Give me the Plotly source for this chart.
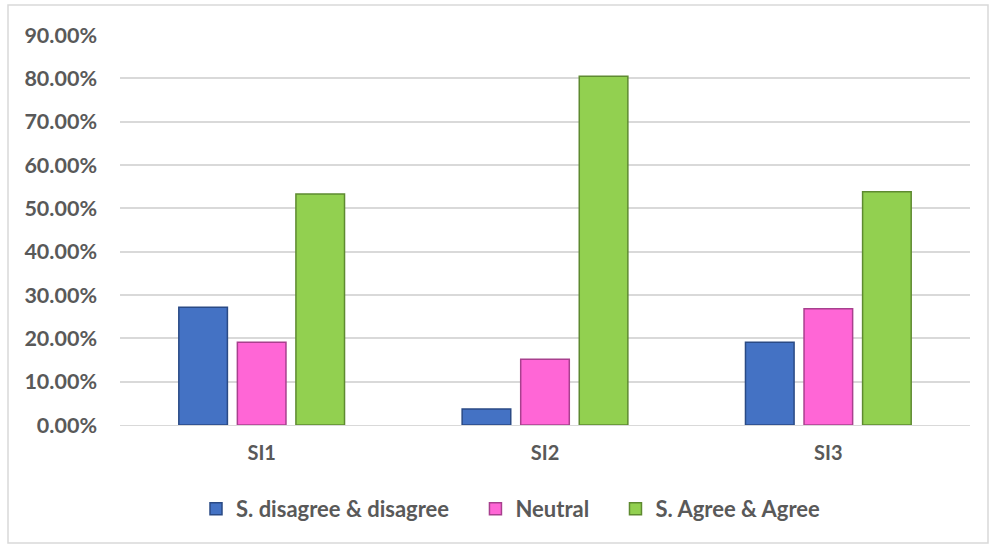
import plotly.graph_objects as go

categories = ["SI1", "SI2", "SI3"]
disagree = [0.272, 0.037, 0.191]
neutral = [0.191, 0.152, 0.268]
agree = [0.533, 0.805, 0.538]
tick_vals = [0, 0.1, 0.2, 0.3, 0.4, 0.5, 0.6, 0.7, 0.8, 0.9]
series_names = ["S. disagree & disagree", "Neutral", "S. Agree & Agree"]

colors = ["#4472C4", "#FF66D6", "#92D050"]
edges = ["#2A4A85", "#A8408E", "#5E8A30"]

fig = go.Figure()
n = len(series_names)
for i, (name, vals, c, e) in enumerate(zip(series_names, [disagree, neutral, agree], colors, edges)):
    pad = "\u00a0" * 4 if i < n - 1 else ""
    fig.add_trace(go.Bar(
        name=name + pad, x=categories, y=vals,
        marker=dict(color=c, line=dict(color=e, width=1.5)),
    ))

font_fam = "Lato, 'Open Sans', sans-serif"
txt = dict(family=font_fam, size=21, color="#595959", weight="bold")
fig.update_layout(
    width=990, height=545,
    margin=dict(l=120, r=20, t=35, b=120),
    paper_bgcolor="white", plot_bgcolor="white",
    barmode="group", bargap=0.38, bargroupgap=0.17,
    font=txt,
    showlegend=True,
    legend=dict(orientation="h", x=0.5 - 34/850, xanchor="center", y=-0.215, yanchor="middle",
                font=dict(family=font_fam, size=22, color="#595959", weight="bold"),
                itemwidth=30, traceorder="normal"),
    xaxis=dict(showgrid=False, showline=True, linecolor="#D9D9D9", linewidth=1,
               tickfont=dict(family=font_fam, size=20, color="#595959", weight="bold"),
               ticks="", ticklabelstandoff=10),
    yaxis=dict(range=[0, 0.9], tickvals=tick_vals, tickformat=".2%",
               showgrid=True, gridcolor="#D9D9D9", gridwidth=1.5,
               zeroline=False, showline=False, ticks="", ticklabelstandoff=22,
               tickfont=dict(family=font_fam, size=21.5, color="#595959", weight="bold")),
    shapes=[dict(type="rect", xref="paper", yref="paper",
                 x0=-112/850, x1=(988-120)/850, y0=-118/390, y1=(545-5-120)/390,
                 line=dict(color="#D9D9D9", width=1.5), fillcolor="rgba(0,0,0,0)", layer="below")],
)

fig.write_html("out.html")
